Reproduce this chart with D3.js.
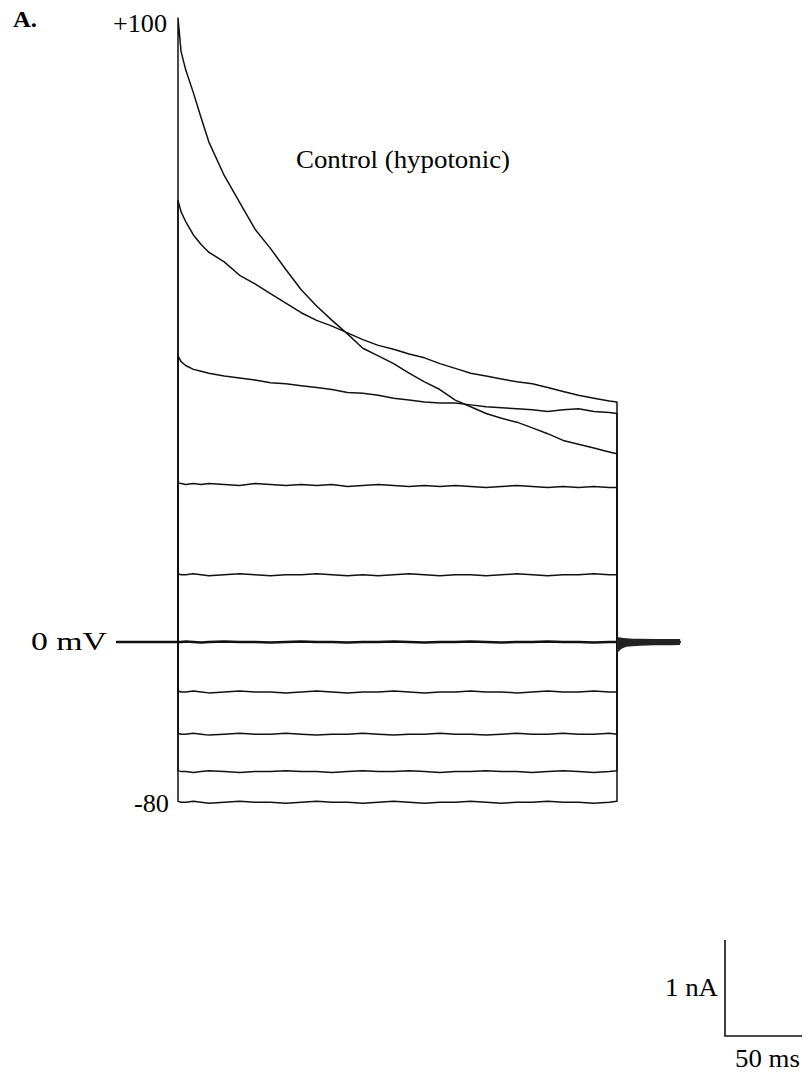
<!DOCTYPE html>
<html>
<head>
<meta charset="utf-8">
<script src="https://cdn.jsdelivr.net/npm/d3@7"></script>
<style>
body { margin: 0; background: #fff; }
text { font-family: "Liberation Serif", "Times New Roman", serif; fill: #000; }
</style>
</head>
<body>
<div id="chart"></div>
<script>
// sample times, ms after step onset
var times = [0, 2, 5, 10, 15, 20, 30, 40, 50, 60, 70, 80, 90, 100, 110, 120, 130, 140,
    150, 160, 170, 180, 190, 200, 210, 220, 230, 240, 250, 260, 270, 280, 285];
var stepEnd = 285;
var holdStart = -40, holdEnd = 326;

// step potentials (mV)
var steps = [100, 80, 60, 40, 20, 0, -20, -40, -60, -80];

// currents in nA, one array per step
var i100 = [6.50, 6.15, 5.96, 5.72, 5.46, 5.21, 4.86, 4.58, 4.30, 4.10, 3.88, 3.67, 3.50, 3.35, 3.21, 3.06, 2.98,
    2.90, 2.80, 2.71, 2.63, 2.52, 2.45, 2.38, 2.33, 2.29, 2.23, 2.17, 2.10, 2.06, 2.02, 1.98, 1.96];
var i80 = [4.60, 4.48, 4.38, 4.24, 4.14, 4.06, 3.96, 3.82, 3.73, 3.63, 3.53, 3.43, 3.35, 3.29, 3.22, 3.15, 3.09,
    3.05, 3.00, 2.96, 2.90, 2.85, 2.80, 2.77, 2.74, 2.71, 2.69, 2.65, 2.61, 2.57, 2.54, 2.51, 2.50];
var i60 = [2.98, 2.92, 2.88, 2.84, 2.82, 2.80, 2.77, 2.75, 2.73, 2.70, 2.69, 2.67, 2.65, 2.63, 2.60, 2.59, 2.57,
    2.54, 2.52, 2.50, 2.49, 2.49, 2.47, 2.45, 2.44, 2.43, 2.42, 2.40, 2.42, 2.43, 2.40, 2.39, 2.38];
var i40 = [1.66, 1.65, 1.64, 1.65, 1.64, 1.65, 1.64, 1.63, 1.65, 1.64, 1.63, 1.64, 1.63, 1.64, 1.62, 1.63, 1.64,
    1.63, 1.62, 1.63, 1.62, 1.63, 1.62, 1.61, 1.62, 1.63, 1.62, 1.61, 1.62, 1.61, 1.62, 1.61, 1.61];
var i20 = [0.71, 0.70, 0.70, 0.71, 0.70, 0.69, 0.70, 0.71, 0.70, 0.69, 0.70, 0.70, 0.71, 0.70, 0.69, 0.70, 0.69,
    0.70, 0.71, 0.70, 0.69, 0.70, 0.70, 0.69, 0.70, 0.71, 0.70, 0.69, 0.70, 0.70, 0.71, 0.70, 0.70];
var i0 = [0, 0, 0.005, 0, -0.005, 0, 0.005, 0, 0, -0.005, 0, 0.005, 0, 0, -0.005, 0, 0,
    0.005, 0, -0.005, 0, 0, 0.005, 0, -0.005, 0, 0, 0.005, 0, 0, -0.005, 0, 0];
var im20 = [-0.51, -0.52, -0.52, -0.51, -0.52, -0.53, -0.52, -0.51, -0.52, -0.52, -0.53, -0.52, -0.51, -0.52, -0.53, -0.52, -0.52,
    -0.51, -0.52, -0.53, -0.52, -0.52, -0.51, -0.52, -0.52, -0.53, -0.52, -0.51, -0.52, -0.52, -0.51, -0.52, -0.52];
var im40 = [-0.95, -0.96, -0.96, -0.95, -0.96, -0.97, -0.96, -0.95, -0.96, -0.96, -0.95, -0.96, -0.97, -0.96, -0.96, -0.95, -0.96,
    -0.97, -0.96, -0.96, -0.95, -0.96, -0.96, -0.97, -0.96, -0.95, -0.96, -0.96, -0.95, -0.96, -0.96, -0.95, -0.96];
var im60 = [-1.34, -1.35, -1.35, -1.36, -1.35, -1.34, -1.35, -1.36, -1.35, -1.35, -1.34, -1.35, -1.35, -1.36, -1.35, -1.34, -1.35,
    -1.35, -1.34, -1.35, -1.36, -1.35, -1.35, -1.34, -1.35, -1.35, -1.36, -1.35, -1.34, -1.35, -1.36, -1.35, -1.34];
var im80 = [-1.66, -1.67, -1.67, -1.66, -1.67, -1.68, -1.67, -1.66, -1.67, -1.67, -1.68, -1.67, -1.66, -1.67, -1.67, -1.68, -1.67,
    -1.66, -1.67, -1.68, -1.67, -1.67, -1.66, -1.67, -1.68, -1.67, -1.67, -1.66, -1.67, -1.67, -1.68, -1.67, -1.66];

var currents = [i100, i80, i60, i40, i20, i0, im20, im40, im60, im80];

// noisy band on the holding line after the step
var tailTimes = [285, 286, 288, 291, 295, 300, 310, 320, 326];
var tailUpper = [0.06, 0.05, 0.045, 0.04, 0.035, 0.035, 0.03, 0.03, 0.03];
var tailLower = [-0.12, -0.1, -0.07, -0.05, -0.045, -0.04, -0.035, -0.035, -0.03];

// scale bar
var barTime = 50, barCurrent = 1;

var svg = d3.select("#chart").append("svg")
    .attr("width", 810)
    .attr("height", 1080);

var x = d3.scaleLinear().domain([0, stepEnd]).range([178, 617]);
var y = d3.scaleLinear().domain([0, 1]).range([642, 546]);

function tracePoints(vals){
    var pts = [[holdStart, 0], [0, 0]];
    times.forEach(function(t, i){ pts.push([t, vals[i]]); });
    pts.push([stepEnd, 0]);
    pts.push([holdEnd, 0]);
    return pts;
}

var line = d3.line()
    .x(function(d){ return x(d[0]); })
    .y(function(d){ return y(d[1]); });

var traces = svg.append("g").attr("class", "traces");

traces.selectAll("path")
    .data(currents).enter().append("path")
    .attr("d", function(d){ return line(tracePoints(d)); })
    .attr("fill", "none")
    .attr("stroke", "#111")
    .attr("stroke-width", function(d, i){ return steps[i] == 0 ? 2.4 : 1.5; })
    .attr("stroke-linejoin", "round");

// tail noise
var tailArea = d3.area()
    .x(function(d, i){ return x(tailTimes[i]); })
    .y0(function(d, i){ return y(tailLower[i]); })
    .y1(function(d, i){ return y(tailUpper[i]); });

svg.append("path")
    .attr("d", tailArea(tailTimes))
    .attr("fill", "#222");

// labels
function label(txt, px, py, size, len, anchor){
    return svg.append("text")
        .attr("x", px).attr("y", py)
        .attr("text-anchor", anchor || "start")
        .attr("font-size", size)
        .attr("textLength", len)
        .attr("lengthAdjust", "spacingAndGlyphs")
        .text(txt);
}

label("A.", 13, 27, 23, 24).attr("font-weight", "bold");
label("+100", 167, 32, 25, 54, "end");
label("0 mV", 107, y(0) + 8, 26, 76, "end");
label("-80", 169, y(im80[0]) + 11, 25, 35, "end");
label("Control (hypotonic)", 296, 168, 25, 214);

// scale bar
var bx = 725, by = 1036;
var barLen = x(barTime) - x(0);
var barH = y(0) - y(barCurrent);

svg.append("path")
    .attr("d", "M" + bx + "," + (by - barH) + "V" + by + "H" + (bx + barLen))
    .attr("fill", "none")
    .attr("stroke", "#111")
    .attr("stroke-width", 1.6);

label("1 nA", 718, by - barH / 2 + 8, 25, 53, "end");
label("50 ms", 735, 1067, 25, 65);
</script>
</body>
</html>
